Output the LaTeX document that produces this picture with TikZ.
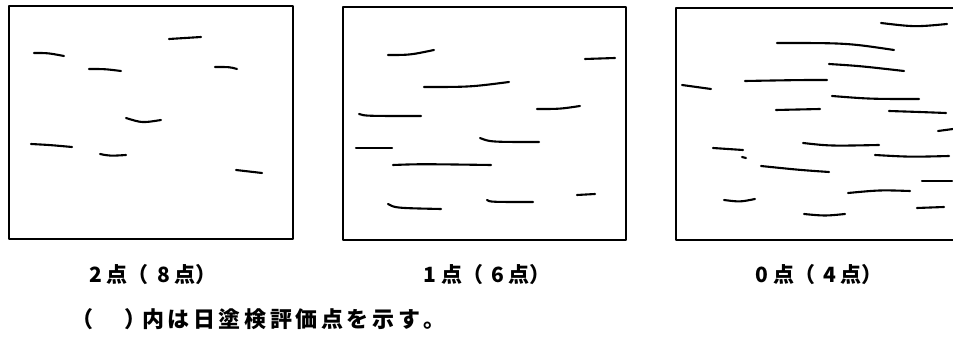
\documentclass[tikz,border=0pt]{standalone}
\usepackage{fontspec}
\newfontfamily\cjk{Noto Sans CJK JP}
\newcommand{\gp}{\hspace{3.6pt}}
\begin{document}
\begin{tikzpicture}[x=1pt,y=-1pt,
  frame/.style={line width=1.9pt,line join=round},
  crack/.style={line width=2.1pt,line cap=round},
  lab/.style={font=\cjk\bfseries\fontsize{21}{22}\selectfont,inner sep=0pt,anchor=center}]
\useasboundingbox (0,0) rectangle (953,339);
% frames
\draw[frame] (9,6) rectangle (293,239);
\draw[frame] (343,7) rectangle (626,240);
\draw[frame] (953,8) -- (676,8) -- (676,240) -- (953,240);
% box 1 cracks
\draw[crack] (34,53) .. controls (48,53) .. (64,56);
\draw[crack] (169,39) -- (201,37);
\draw[crack] (89,69) .. controls (105,69) .. (121,71);
\draw[crack] (215,67) .. controls (230,67) .. (237,69);
\draw[crack] (126,118) .. controls (142,123) .. (161,120);
\draw[crack] (31,144) .. controls (50,145) .. (72,147);
\draw[crack] (100,154) .. controls (110,156) .. (126,155);
\draw[crack] (236,170) -- (262,173);
% box 2 cracks
\draw[crack] (388,55) .. controls (410,55) .. (434,50);
\draw[crack] (585,59) -- (615,58);
\draw[crack] (424,87) .. controls (470,87) .. (509,82);
\draw[crack] (537,109) .. controls (560,109) .. (580,106);
\draw[crack] (359,114) .. controls (365,116) .. (421,116);
\draw[crack] (480,138) .. controls (490,142) .. (539,142);
\draw[crack] (356,148) -- (392,148);
\draw[crack] (393,165) .. controls (420,164) .. (491,165);
\draw[crack] (577,195) -- (595,194);
\draw[crack] (388,204) .. controls (395,208) .. (441,209);
\draw[crack] (487,200) .. controls (490,202) .. (533,202);
% box 3 cracks
\draw[crack] (881,23) .. controls (915,27) .. (947,24);
\draw[crack] (777,43) .. controls (847,43) .. (894,50);
\draw[crack] (829,64) .. controls (860,66) .. (904,71);
\draw[crack] (745,81) .. controls (800,80) .. (827,80);
\draw[crack] (682,85) -- (711,89);
\draw[crack] (832,96) .. controls (870,99) .. (919,99);
\draw[crack] (776,110) -- (820,109);
\draw[crack] (889,111) .. controls (920,112) .. (946,113);
\draw[crack] (938,131) -- (953,129);
\draw[crack] (803,143) .. controls (830,146) .. (879,145);
\draw[crack] (713,148) -- (743,150);
\draw[crack] (742,157) -- (746,158);
\draw[crack] (875,155) .. controls (910,157) .. (949,156);
\draw[crack] (761,166) .. controls (800,170) .. (829,172);
\draw[crack] (922,181) -- (952,181);
\draw[crack] (848,193) .. controls (880,190) .. (910,191);
\draw[crack] (724,200) .. controls (740,202) .. (755,199);
\draw[crack] (917,208) -- (944,207);
\draw[crack] (804,214) .. controls (825,216) .. (845,214);
% labels
\node[lab] (l1) at (153,275) {2\hspace{5pt}点（\hspace{8pt}8\hspace{5pt}点）};
\node[lab] (l2) at (487,275) {1\hspace{5pt}点（\hspace{8pt}6\hspace{5pt}点）};
\node[lab] (l3) at (819,275) {0\hspace{5pt}点（\hspace{8pt}4\hspace{5pt}点）};
\node[lab,font=\cjk\bfseries\fontsize{22}{22}\selectfont,anchor=west] (note) at (71,319) {（\hspace{31pt}）\hspace{-4pt}内\gp は\gp 日\gp 塗\gp 検\gp 評\gp 価\gp 点\gp を\gp 示\gp す\gp 。};
\end{tikzpicture}
\end{document}
